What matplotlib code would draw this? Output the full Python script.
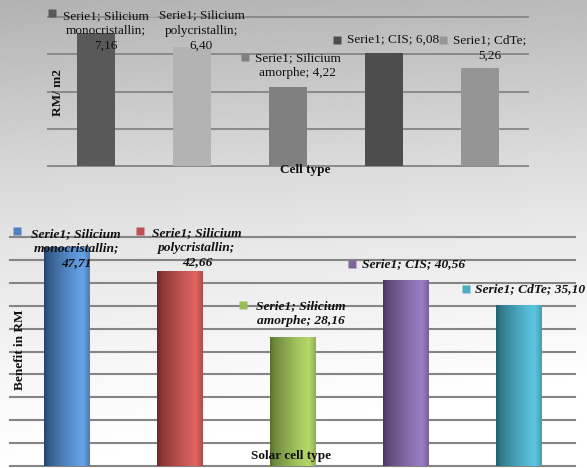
import numpy as np
import matplotlib
matplotlib.use('Agg')
import matplotlib.pyplot as plt
from matplotlib.colors import to_rgb
from matplotlib.transforms import ScaledTranslation

# Datos: costo por m2 y beneficio por tipo de celda
cell_types = ["Silicium monocristallin", "Silicium polycristallin",
              "Silicium amorphe", "CIS", "CdTe"]
cost_m2 = [7.16, 6.40, 4.22, 6.08, 5.26]
benefit_rm = [47.71, 42.66, 28.16, 40.56, 35.10]

# Textos de las etiquetas tal como aparecen (con saltos de linea)
cost_labels = ["Serie1; Silicium\nmonocristallin;\n7,16",
               "Serie1; Silicium\npolycristallin;\n6,40",
               "Serie1; Silicium\namorphe; 4,22",
               "Serie1; CIS; 6,08",
               "Serie1; CdTe;\n5,26"]
benefit_labels = ["Serie1; Silicium\nmonocristallin;\n47,71",
                  "Serie1; Silicium\npolycristallin;\n42,66",
                  "Serie1; Silicium\namorphe; 28,16",
                  "Serie1; CIS; 40,56",
                  "Serie1; CdTe; 35,10"]

gray_colors = ["#595959", "#b3b3b3", "#808080", "#4d4d4d", "#959595"]
dark_colors = ["#27446b", "#6e2826", "#5a7030", "#47385e", "#22606e"]
light_colors = ["#66a3e8", "#e06562", "#b5d96a", "#9b7ec4", "#5cc6e2"]
key_colors = ["#4f81bd", "#c0504d", "#9bbb59", "#8064a2", "#4bacc6"]

# desplazamientos de etiquetas en pixeles (texto dx, dy ; cuadrito sx, sy respecto al texto)
cost_offsets = [(9.5, 2, -54, 17.5), (9.5, 16.3, -49, 17.5), (9.5, 21.4, -53, 9),
                (9, 12.8, -56.5, 0), (9.5, 20, -47, 8)]
benefit_offsets = [(9.5, -1, -59.5, 17), (17.5, 23.1, -57, 16.5), (8.5, 23.5, -58, 8.5),
                   (8, 16.2, -61.5, 0), (12, 16.2, -65, 0)]

SERIF = ['Liberation Serif', 'DejaVu Serif']
DPI = 100
W, H = 587, 468

fig = plt.figure(figsize=(W / DPI, H / DPI), dpi=DPI)

# fondo degradado gris -> blanco
bg = fig.add_axes([0, 0, 1, 1])
yy = np.linspace(0, 1, 300)[:, None]
xx = np.linspace(0, 1, 300)[None, :]
vals = np.interp(yy, [0, 0.35, 0.5, 0.8, 1.0], [0.70, 0.84, 0.89, 0.97, 1.0]) + 0.03 * xx
vals = np.clip(vals, 0, 1)
bg.imshow(np.dstack([vals, vals, vals]), extent=[0, 1, 0, 1], aspect='auto', origin='upper')
bg.set_axis_off()


def px_axes(x0, y0, x1, y1):
    return fig.add_axes([x0 / W, 1 - y1 / H, (x1 - x0) / W, (y1 - y0) / H])


def draw_labels(ax, values, labels, offsets, sq_colors, fs, weight, style, lsp):
    for i, (v, lab, off) in enumerate(zip(values, labels, offsets)):
        dx, dy, sx, sy = off
        ax.annotate(lab, xy=(i, v), xytext=(dx, dy), textcoords='offset pixels',
                    ha='center', va='center', fontsize=fs, family=SERIF,
                    fontweight=weight, fontstyle=style, color='#111111',
                    linespacing=lsp, zorder=5, annotation_clip=False)
        tr = ax.transData + ScaledTranslation((dx + sx) / DPI, (dy + sy) / DPI,
                                              fig.dpi_scale_trans)
        ax.plot([i], [v], marker='s', ms=5.8, color=sq_colors[i], mec='none',
                transform=tr, zorder=6, clip_on=False)


# ---- grafica superior: RM / m2 ----
ax1 = px_axes(48, 17, 528, 166)
ax1.set_xlim(-0.5, 4.5)
ax1.set_ylim(0, 8)
for g in range(0, 9, 2):
    ax1.axhline(g, color='#8a8a8a', lw=1.4, zorder=1, clip_on=False)
ax1.bar(range(5), cost_m2, width=0.40, color=gray_colors, zorder=2)
ax1.set_axis_off()
draw_labels(ax1, cost_m2, cost_labels, cost_offsets, gray_colors,
            9.5, 'normal', 'normal', 1.31)
fig.text(58 / W, 1 - 92 / H, "RM/ m2", rotation=90, ha='center', va='center',
         fontsize=9.5, fontweight='bold', family=SERIF, color='#111111')
fig.text(305 / W, 1 - 170 / H, "Cell type", ha='center', va='center',
         fontsize=9.5, fontweight='bold', family=SERIF, color='#111111')

# ---- grafica inferior: beneficio en RM ----
ax2 = px_axes(10, 237, 575, 466)
ax2.set_xlim(-0.5, 4.5)
ax2.set_ylim(0, 50)
for g in range(0, 51, 5):
    ax2.axhline(g, color='#858585', lw=1.5, zorder=1, clip_on=False)
bars = ax2.bar(range(5), benefit_rm, width=0.40, color=light_colors, zorder=2)

# sombreado cilindrico de cada barra
t = np.linspace(0, 1, 64)
prof = np.interp(t, [0, 0.1, 0.55, 0.85, 1.0], [0.0, 0.25, 0.75, 1.0, 0.6])
for b, dc, lc in zip(bars, dark_colors, light_colors):
    d, l = np.array(to_rgb(dc)), np.array(to_rgb(lc))
    img = d[None, None, :] + (l - d)[None, None, :] * prof[None, :, None]
    x0, y0 = b.get_x(), b.get_y()
    im = ax2.imshow(img, extent=[x0, x0 + b.get_width(), y0, y0 + b.get_height()],
                    aspect='auto', zorder=3, interpolation='bilinear')
    im.set_clip_path(b)
ax2.set_xlim(-0.5, 4.5)
ax2.set_ylim(0, 50)
ax2.set_axis_off()
draw_labels(ax2, benefit_rm, benefit_labels, benefit_offsets, key_colors,
            9.7, 'bold', 'italic', 1.29)
fig.text(20 / W, 1 - 350 / H, "Benefit in RM", rotation=90, ha='center', va='center',
         fontsize=9.5, fontweight='bold', family=SERIF, color='#111111')
fig.text(291 / W, 1 - 456 / H, "Solar cell type", ha='center', va='center',
         fontsize=9.5, fontweight='bold', family=SERIF, color='#111111', zorder=10)

fig.savefig('out.png', dpi=DPI)
